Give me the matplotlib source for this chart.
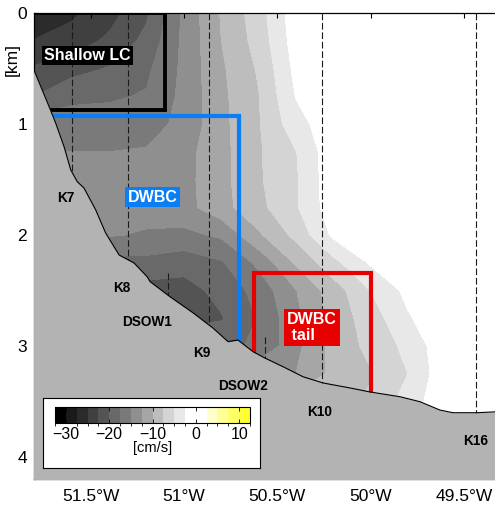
import numpy as np
import matplotlib
matplotlib.use("Agg")
import matplotlib.pyplot as plt
from matplotlib.colors import ListedColormap, BoundaryNorm

plt.rcParams['font.family'] = ['Liberation Sans', 'DejaVu Sans']

# along-section velocity (cm/s) on a lon x depth grid
lon = [-51.85, -51.6, -51.4, -51.2, -51.0, -50.8, -50.6, -50.4, -50.2, -50.0, -49.8, -49.6, -49.3]
depth = [0.0, 0.25, 0.5, 0.75, 1.0, 1.25, 1.5, 1.75, 2.0, 2.25, 2.5, 2.75, 3.0, 3.25, 3.5, 3.75, 4.3]
vel = [
    [-26.5, -25.5, -23.5, -20.4, -14.5, -9.8, -6.1, -1.0, -0.2, 0, 0, 0, 0],
    [-25.2, -23.8, -22.0, -19.3, -14.4, -10.0, -6.5, -1.3, -0.2, 0, 0, 0, 0],
    [-22.5, -21.0, -19.8, -18.0, -14.4, -10.4, -7.2, -1.8, -0.3, 0, 0, 0, 0],
    [-20.5, -18.0, -17.8, -17.3, -14.3, -10.6, -7.6, -2.4, -0.4, 0, 0, 0, 0],
    [-16.5, -16.5, -16.5, -16.0, -14.3, -10.7, -7.7, -3.5, -0.8, -0.2, 0, 0, 0],
    [-15.0, -15.0, -15.0, -14.8, -13.4, -10.8, -7.8, -5.1, -0.8, -0.3, 0, 0, 0],
    [-14.0, -14.0, -14.0, -13.8, -13.3, -10.8, -7.8, -5.3, -0.8, -0.3, 0, 0, 0],
    [-14.2, -14.2, -14.2, -14.0, -13.4, -10.9, -8.2, -5.3, -1.0, -0.3, 0, 0, 0],
    [-14.8, -14.8, -14.8, -15.3, -15.6, -14.6, -10.4, -6.8, -2.0, -0.5, -0.2, 0, 0],
    [-18.3, -18.3, -18.3, -18.3, -19.0, -17.8, -14.4, -9.7, -5.8, -2.2, -0.4, 0, 0],
    [-21.0, -21.0, -21.0, -21.0, -21.0, -19.2, -16.6, -12.6, -8.8, -5.0, -1.8, -0.3, 0],
    [-21.0, -21.0, -21.0, -21.0, -21.0, -20.2, -17.3, -13.2, -9.0, -6.3, -2.8, -0.5, 0],
    [-18.0, -18.0, -18.0, -18.0, -18.0, -18.0, -17.2, -13.2, -9.2, -6.8, -4.3, -0.8, -0.2],
    [-13.0, -13.0, -13.0, -13.0, -13.0, -13.0, -13.0, -12.5, -9.3, -7.7, -5.0, -0.8, 0],
    [-9.0, -9.0, -9.0, -9.0, -9.0, -9.0, -9.0, -9.0, -9.0, -7.0, -4.0, -0.5, 0],
    [-9.0, -9.0, -9.0, -9.0, -9.0, -9.0, -9.0, -9.0, -9.0, -7.0, -4.0, -0.5, 0],
    [-9.0, -9.0, -9.0, -9.0, -9.0, -9.0, -9.0, -9.0, -9.0, -7.0, -4.0, -0.5, 0],
]

# bottom topography along the section
bathy_lon = [-51.82, -51.723, -51.688, -51.643, -51.607, -51.572, -51.536, -51.473,
             -51.420, -51.348, -51.268, -51.198, -51.182, -51.075, -50.950, -50.845,
             -50.764, -50.711, -50.630, -50.567, -50.470, -50.362, -50.255, -50.110,
             -50.003, -49.842, -49.735, -49.628, -49.558, -49.431, -49.32]
bathy_z = [0.45, 0.844, 0.991, 1.204, 1.414, 1.520, 1.577, 1.775,
           1.982, 2.180, 2.252, 2.375, 2.420, 2.556, 2.703, 2.838,
           2.961, 2.946, 3.051, 3.108, 3.186, 3.277, 3.333, 3.378,
           3.414, 3.457, 3.502, 3.577, 3.601, 3.601, 3.592]

# moorings
mooring_names = ['K7', 'K8', 'K9', 'K10', 'K16']
mooring_lon = [-51.599, -51.302, -50.866, -50.262, -49.435]
dsow_names = ['DSOW1', 'DSOW2']
dsow_lon = [-51.086, -50.566]
dsow_top = [2.34, 2.92]

# current regimes (lon/depth bounds)
lc_right, lc_bottom = -51.102, 0.87
dwbc_right, dwbc_top = -50.705, 0.93
tail_left, tail_right, tail_top = -50.623, -50.0, 2.345

xticks = [-51.5, -51.0, -50.5, -50.0, -49.5]
xticklabels = ['51.5°W', '51°W', '50.5°W', '50°W', '49.5°W']

# colour scale: greys for southward flow, yellows for northward
edges = np.arange(-32.5, 12.6, 2.5)
grays = [0.0, 0.1, 0.17, 0.25, 0.33, 0.41, 0.48, 0.56, 0.65, 0.74, 0.83, 0.91, 1.0, 1.0]
cols = [(g, g, g) for g in grays] + [(1, 1, 0.8), (1, 1, 0.6), (1, 1, 0.4), (1, 1, 0.2)]
cmap = ListedColormap(cols)
norm = BoundaryNorm(edges, cmap.N)

fig = plt.figure(figsize=(4.95, 5.07), dpi=100)
ax = fig.add_axes([34 / 495, 28 / 507, 462 / 495, 466 / 507])

cf = ax.contourf(lon, depth, np.array(vel), levels=edges, cmap=cmap, norm=norm, zorder=1)

ymax = 4.198
for x in mooring_lon:
    ax.plot([x, x], [0, 4.3], color='0.1', lw=0.8, ls=(0, (6, 2.5)), zorder=2)
for x, top in zip(dsow_lon, dsow_top):
    ax.plot([x, x], [top, 4.3], color='0.1', lw=0.8, ls=(0, (6, 2.5)), zorder=2)

# boxes run into the sea floor, which hides the buried parts
ax.plot([-51.9, lc_right, lc_right, -51.9, -51.9], [lc_bottom, lc_bottom, 0, 0, lc_bottom],
        color='k', lw=2.8, zorder=2.5, solid_joinstyle='miter')
ax.plot([-51.9, dwbc_right, dwbc_right], [dwbc_top, dwbc_top, 4.3],
        color='#0a7ff5', lw=3, zorder=2.5, solid_joinstyle='miter')
ax.plot([tail_left, tail_left, tail_right, tail_right], [4.3, tail_top, tail_top, 4.3],
        color='#e60000', lw=3, zorder=2.5, solid_joinstyle='miter')

ax.fill_between(bathy_lon, bathy_z, 4.5, color='0.7', lw=0, zorder=3)
ax.plot(bathy_lon, bathy_z, color='k', lw=0.8, zorder=3.1)

lab = dict(fontsize=11.5, fontweight='bold', color='white', ha='center', va='center', zorder=5)
ax.text(-51.518, 0.383, 'Shallow LC', bbox=dict(boxstyle='square,pad=0.15', fc='black', ec='none'), **lab)
ax.text(-51.169, 1.658, 'DWBC', bbox=dict(boxstyle='square,pad=0.15', fc='#0a7ff5', ec='none'), **lab)
ax.text(-50.313, 2.833, 'DWBC\n tail', multialignment='left', linespacing=1.05,
        bbox=dict(boxstyle='square,pad=0.2', fc='#e60000', ec='none'), **lab)

site = dict(fontsize=9.8, fontweight='bold', color='k', ha='center', va='center', zorder=5)
for name, x, z in [('K7', -51.634, 1.67), ('K8', -51.335, 2.473), ('DSOW1', -51.198, 2.784),
                   ('K9', -50.902, 3.066), ('DSOW2', -50.684, 3.36), ('K10', -50.275, 3.592),
                   ('K16', -49.435, 3.856)]:
    ax.text(x, z, name, **site)

ax.set_xlim(-51.804, -49.328)
ax.set_ylim(ymax, 0)
ax.set_xticks(xticks)
ax.set_xticklabels(xticklabels)
ax.set_yticks([0, 1, 2, 3, 4])
ax.tick_params(direction='in', length=3.5, width=0.8, top=True, right=False, labelsize=12.5)
ax.tick_params(axis='x', pad=7)
ax.tick_params(axis='y', pad=5)
for s in ax.spines.values():
    s.set_linewidth(0.9)
fig.text(12.5 / 495, 1 - 60 / 507, '[km]', rotation=90, ha='center', va='center', fontsize=12.5)

# colour bar in a white inset panel
panel = fig.add_axes([43 / 495, 1 - 468 / 507, 217 / 495, 70 / 507], zorder=6)
panel.set_xticks([])
panel.set_yticks([])
panel.set_facecolor('white')
for s in panel.spines.values():
    s.set_linewidth(0.8)
cax = fig.add_axes([55 / 495, 1 - 423 / 507, 195 / 495, 16 / 507], zorder=7)
cb = fig.colorbar(cf, cax=cax, orientation='horizontal', ticks=[-30, -20, -10, 0, 10])
cb.outline.set_linewidth(0.8)
cax.tick_params(direction='in', top=True, bottom=True, length=3, width=0.6, labelsize=11.5, pad=3)
cax.set_xlabel('[cm/s]', fontsize=10.5, labelpad=-1)

fig.savefig('out.png', dpi=100)
